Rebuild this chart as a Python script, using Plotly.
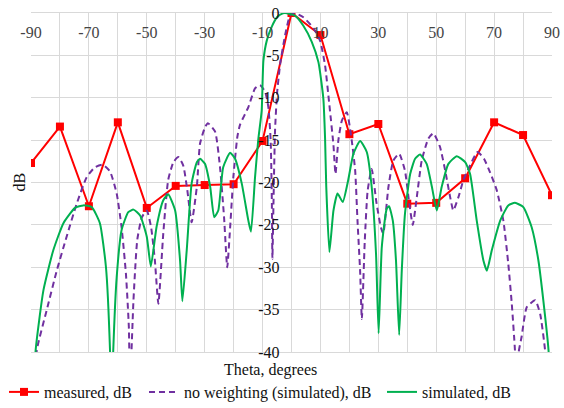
import plotly.graph_objects as go

# Measured pattern, sampled every 10 degrees
meas_theta = [-90, -80, -70, -60, -50, -40, -30, -20, -10, 0, 10, 20, 30, 40, 50, 60, 70, 80, 90]
meas_db = [-17.7, -13.4, -22.8, -12.9, -23.0, -20.4, -20.3, -20.2, -15.1, 0.0, -2.6, -14.3,
           -13.1, -22.5, -22.4, -19.5, -12.9, -14.4, -21.5]

# Simulated pattern without amplitude weighting
nw_theta = [-88.4, -88.0, -84.6, -81.1, -77.7, -74.2, -70.8, -67.9, -65.2, -62.7, -60.4, -58.7,
            -57.2, -56.2, -55.8, -54.6, -53.3, -51.7, -50.0, -48.5, -47.2, -46.0, -44.3, -42.6,
            -40.8, -39.1, -37.4, -36.0, -34.5, -32.7, -31.6, -29.9, -28.9, -26.4, -24.7, -23.3,
            -22.2, -21.2, -20.1, -18.7, -17.8, -14.9, -12.6, -10.9, -9.1, -8.0, -7.2, -6.8,
            -6.6, -6.2, -5.7, -5.0, -3.9, -2.2, -0.5, 1.0, 4.1, 7.6, 9.9, 11.6, 13.1, 14.5,
            15.2, 16.2, 17.4, 19.1, 20.8, 22.0, 22.8, 23.7, 24.3, 25.3, 26.3, 27.7, 29.4, 30.9,
            31.7, 33.5, 35.2, 37.2, 39.2, 40.7, 41.9, 43.3, 45.0, 47.3, 49.0, 51.3, 53.1, 54.8,
            55.9, 57.7, 59.4, 61.1, 64.3, 66.5, 68.6, 70.9, 73.2, 74.9, 76.1, 77.2, 77.8, 78.5,
            79.5, 81.3, 84.2, 85.9, 87.6, 88.0]
nw_db = [-44.0, -39.8, -35.1, -30.4, -26.4, -22.5, -19.4, -18.2, -17.9, -18.7, -21.3, -25.3,
         -30.8, -37.0, -44.0, -33.9, -26.8, -24.1, -23.3, -25.3, -29.2, -34.3, -26.0, -19.7,
         -17.6, -17.0, -18.0, -20.9, -24.7, -20.5, -15.4, -13.5, -13.0, -14.0, -18.2, -24.1,
         -30.0, -25.3, -19.4, -14.6, -13.2, -11.1, -8.9, -8.5, -9.3, -11.1, -15.0, -22.0,
         -29.0, -22.0, -14.0, -9.5, -6.0, -2.6, -0.3, 0.0, -0.5, -1.8, -3.3, -6.2, -10.9, -15.6,
         -19.0, -15.0, -12.7, -11.7, -15.0, -18.6, -24.5, -30.4, -36.1, -27.0, -21.0, -18.4,
         -22.5, -25.3, -26.0, -20.5, -17.4, -16.6, -18.6, -22.5, -25.0, -21.7, -17.4, -14.8,
         -14.2, -15.8, -18.6, -21.7, -23.3, -21.7, -19.7, -18.4, -16.4, -17.2, -18.8, -20.9,
         -24.5, -29.6, -34.3, -39.8, -46.0, -40.0, -38.2, -34.7, -33.9, -35.5, -39.8, -44.0]

# Simulated pattern with weighting
sim_theta = [-88.8, -88.4, -85.7, -82.3, -78.8, -74.8, -71.9, -69.0, -66.2, -64.1, -62.7, -62.2,
             -61.6, -60.4, -58.7, -56.4, -54.6, -52.3, -50.0, -48.6, -46.6, -44.3, -42.6, -40.2,
             -38.5, -37.7, -36.2, -34.5, -32.7, -31.6, -29.9, -28.1, -26.7, -25.3, -23.6, -21.2,
             -19.5, -17.2, -14.9, -14.0, -12.6, -11.5, -10.3, -9.7, -8.5, -6.8, -5.0, -3.0, -2.2,
             1.2, 4.1, 7.0, 9.3, 11.0, 11.6, 12.0, 13.1, 14.5, 15.9, 17.7, 19.6, 21.4, 23.7, 26.0,
             27.7, 29.2, 30.1, 31.2, 32.9, 33.7, 35.0, 36.1, 37.2, 38.1, 39.2, 41.0, 42.7, 44.4,
             46.7, 48.5, 50.2, 51.9, 54.2, 57.1, 60.0, 61.7, 64.0, 66.3, 67.5, 69.2, 72.1, 74.9,
             77.2, 80.1, 83.0, 85.3, 87.0, 88.8, 89.2]
sim_db = [-44.0, -39.8, -32.7, -28.0, -24.8, -23.0, -22.7, -22.9, -24.8, -30.0, -39.8, -48.0,
          -40.0, -31.2, -25.6, -23.5, -23.2, -23.9, -26.4, -29.9, -25.2, -22.1, -21.4, -23.3,
          -29.2, -34.0, -28.0, -20.1, -17.6, -17.2, -17.8, -20.5, -24.1, -23.3, -18.2, -16.5,
          -17.2, -20.1, -24.5, -25.8, -19.4, -15.0, -11.5, -5.6, -3.2, -1.6, -0.5, -0.05, 0.0,
          -0.3, -1.5, -3.4, -5.8, -10.1, -14.8, -20.4, -28.2, -23.3, -21.3, -22.3, -19.7, -16.6,
          -15.1, -16.4, -20.5, -28.4, -37.8, -27.6, -23.1, -22.8, -24.5, -29.2, -38.0, -30.4,
          -23.7, -19.0, -17.2, -16.7, -17.8, -20.5, -23.3, -20.5, -17.8, -16.9, -17.6, -19.0,
          -24.5, -29.2, -30.4, -28.0, -24.5, -22.7, -22.4, -22.9, -25.3, -29.2, -33.9, -39.8, -44.0]

x_ticks = [-90, -70, -50, -30, -10, 10, 30, 50, 70, 90]
y_ticks = [0, -5, -10, -15, -20, -25, -30, -35, -40]

FONT = "Liberation Serif"
TXT = "#111111"
GRID = "#d9d9d9"
W, H = 564, 408

fig = go.Figure()
fig.add_trace(go.Scatter(
    x=meas_theta, y=meas_db, name="measured, dB", mode="lines+markers",
    line=dict(color="#ff0000", width=2),
    marker=dict(symbol="square", size=8, color="#ff0000"),
    legend="legend",
))
fig.add_trace(go.Scatter(
    x=nw_theta, y=nw_db, name="no weighting (simulated), dB", mode="lines",
    line=dict(color="#7030a0", width=2, dash="6px,4px", shape="spline", smoothing=0.5),
    legend="legend2",
))
fig.add_trace(go.Scatter(
    x=sim_theta, y=sim_db, name="simulated, dB", mode="lines",
    line=dict(color="#00b050", width=2, shape="spline", smoothing=0.5),
    legend="legend3",
))


def legend_box(left_px):
    return dict(
        orientation="h", x=left_px / W, xref="container", xanchor="left",
        y=(H - 392) / H, yref="container", yanchor="middle",
        font=dict(family=FONT, size=16, color=TXT), bgcolor="rgba(0,0,0,0)",
    )


fig.update_layout(
    width=W, height=H,
    margin=dict(l=31, r=12, t=13, b=56, autoexpand=False),
    paper_bgcolor="white", plot_bgcolor="white",
    font=dict(family=FONT, size=16, color=TXT),
    showlegend=True,
    legend=legend_box(4),
    legend2=legend_box(144),
    legend3=legend_box(382),
    xaxis=dict(
        range=[-90, 90], side="top", tickmode="array", tickvals=x_ticks,
        ticktext=[str(v) for v in x_ticks], ticks="", ticklabelposition="inside",
        ticklabeloverflow="allow", ticklabelstandoff=14,
        showgrid=True, gridcolor=GRID, gridwidth=1,
        minor=dict(dtick=10, tick0=-90, showgrid=True, gridcolor=GRID, gridwidth=1),
        zeroline=False, showline=True, mirror=True, linecolor=GRID, linewidth=1,
    ),
    yaxis=dict(
        range=[-40, 0], tickmode="array", tickvals=y_ticks,
        ticktext=[str(v) for v in y_ticks], ticks="",
        anchor="free", position=0.5, ticklabelstandoff=12,
        showgrid=True, gridcolor=GRID, gridwidth=1, zeroline=False, showline=False,
    ),
    annotations=[
        dict(text="dB", xref="paper", yref="paper", x=-0.023, y=0.5, textangle=-90,
             showarrow=False, xanchor="center", yanchor="middle",
             font=dict(family=FONT, size=16, color=TXT)),
        dict(text="Theta, degrees", xref="paper", yref="paper", x=0.459, y=-0.052,
             showarrow=False, xanchor="center", yanchor="middle",
             font=dict(family=FONT, size=16, color=TXT)),
    ],
)

fig.write_html("out.html")
